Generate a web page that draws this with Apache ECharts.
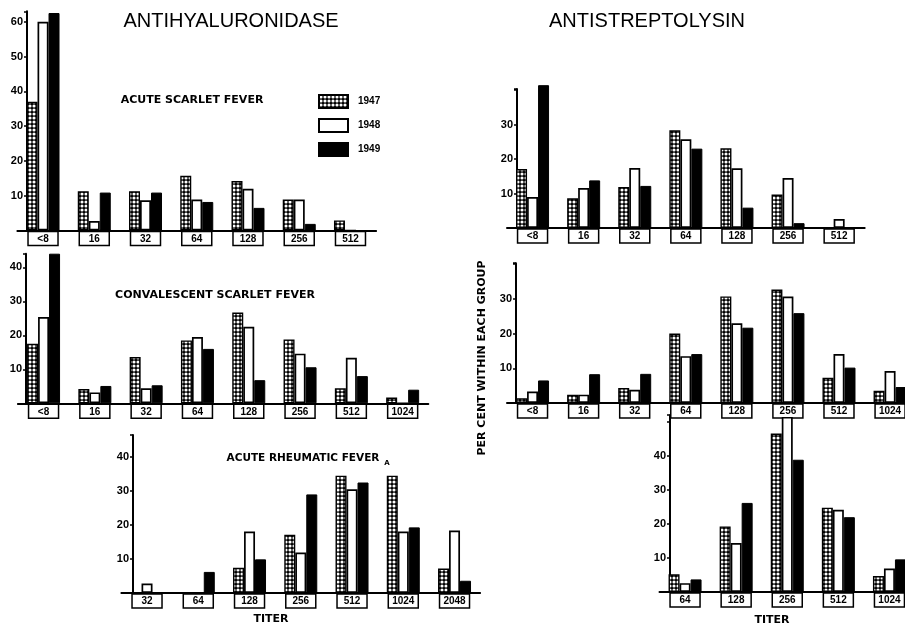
<!DOCTYPE html>
<html>
<head>
<meta charset="utf-8">
<script src="https://cdn.jsdelivr.net/npm/echarts@6/dist/echarts.min.js"></script>
<style>
html,body{margin:0;padding:0;background:#fff;}
#chart{width:905px;height:628px;}
</style>
</head>
<body>
<div id="chart"></div>
<script>
// ---------- DATA ----------
const years = ['1947', '1948', '1949'];

// Antihyaluronidase – acute scarlet fever
const ahScarletCats = ['<8', '16', '32', '64', '128', '256', '512'];
const ahScarlet1947 = [37, 11.3, 11.3, 15.7, 14.2, 8.9, 2.9];
const ahScarlet1948 = [60, 2.7, 8.7, 8.9, 12, 8.9, 0];
const ahScarlet1949 = [62.5, 10.9, 10.9, 8.2, 6.5, 1.9, 0];

// Antihyaluronidase – convalescent scarlet fever
const ahConvCats = ['<8', '16', '32', '64', '128', '256', '512', '1024'];
const ahConv1947 = [17.5, 4.2, 13.6, 18.5, 26.7, 18.8, 4.4, 1.7];
const ahConv1948 = [25.4, 3.2, 4.4, 19.5, 22.5, 14.6, 13.4, 0];
const ahConv1949 = [44, 5.1, 5.3, 16, 6.8, 10.6, 8, 4];

// Antihyaluronidase – acute rheumatic fever
const ahRheumCats = ['32', '64', '128', '256', '512', '1024', '2048'];
const ahRheum1947 = [0, 0, 7.4, 17.1, 34.5, 34.5, 7.2];
const ahRheum1948 = [2.8, 0, 18.1, 11.9, 30.5, 18.1, 18.4];
const ahRheum1949 = [0, 6.2, 9.9, 29, 32.5, 19.3, 3.6];

// Antistreptolysin – acute scarlet fever
const asScarletCats = ['<8', '16', '32', '64', '128', '256', '512'];
const asScarlet1947 = [17.1, 8.6, 11.9, 28.3, 23.1, 9.7, 0];
const asScarlet1948 = [9, 11.6, 17.4, 25.7, 17.3, 14.5, 2.6];
const asScarlet1949 = [41.4, 13.8, 12.2, 23, 5.9, 1.4, 0];

// Antistreptolysin – convalescent scarlet fever
const asConvCats = ['<8', '16', '32', '64', '128', '256', '512', '1024'];
const asConv1947 = [1.4, 2.4, 4.3, 20, 30.7, 32.7, 7.3, 3.5];
const asConv1948 = [3.3, 2.4, 3.8, 13.5, 23, 30.7, 14.1, 9.2];
const asConv1949 = [6.5, 8.3, 8.4, 14.1, 21.7, 25.9, 10.2, 4.6];

// Antistreptolysin – acute rheumatic fever
const asRheumCats = ['64', '128', '256', '512', '1024'];
const asRheum1947 = [5.2, 19.3, 46.6, 24.8, 4.7];
const asRheum1948 = [2.6, 14.4, 51.5, 24.2, 6.9];
const asRheum1949 = [3.7, 26.2, 38.9, 22, 9.6];

// tick labels shown on each y axis
const ticksP1 = [10, 20, 30, 40, 50, 60];
const ticksP2 = [10, 20, 30, 40];
const ticksP3 = [10, 20, 30, 40];
const ticksP4 = [10, 20, 30];
const ticksP5 = [10, 20, 30];
const ticksP6 = [10, 20, 30, 40];

// ---------- LAYOUT (px) ----------
const panels = [
  {cats: ahScarletCats, vals: [ahScarlet1947, ahScarlet1948, ahScarlet1949], ticks: ticksP1, left: 17.4, width: 358.7, base: 230.5, scale: 3.48, max: 63,   axisX: 27},
  {cats: ahConvCats,    vals: [ahConv1947, ahConv1948, ahConv1949],          ticks: ticksP2, left: 17.9, width: 410.4, base: 403.3, scale: 3.4,  max: 44,   axisX: 26},
  {cats: ahRheumCats,   vals: [ahRheum1947, ahRheum1948, ahRheum1949],       ticks: ticksP3, left: 121.4, width: 358.75, base: 593, scale: 3.4,  max: 46.5, axisX: 133},
  {cats: asScarletCats, vals: [asScarlet1947, asScarlet1948, asScarlet1949], ticks: ticksP4, left: 507, width: 357.7, base: 228,   scale: 3.45, max: 40.3, axisX: 517},
  {cats: asConvCats,    vals: [asConv1947, asConv1948, asConv1949],          ticks: ticksP5, left: 507, width: 408.6, base: 403,   scale: 3.47, max: 40.3, axisX: 516},
  {cats: asRheumCats,   vals: [asRheum1947, asRheum1948, asRheum1949],       ticks: ticksP6, left: 659.5, width: 255.5, base: 592, scale: 3.4,  max: 52,   axisX: 670}
];

// dotted hatch pattern for 1947
const pc = document.createElement('canvas');
pc.width = 4; pc.height = 4;
const pctx = pc.getContext('2d');
pctx.fillStyle = '#000'; pctx.fillRect(0, 0, 4, 4);
pctx.fillStyle = '#fff'; pctx.beginPath(); pctx.arc(2, 2, 1.55, 0, Math.PI * 2); pctx.fill();
const hatch = {image: pc, repeat: 'repeat'};

const yearStyles = [
  {color: hatch, borderColor: '#000', borderWidth: 1.4},
  {color: '#fff', borderColor: '#000', borderWidth: 1.7},
  {color: '#000', borderColor: '#000', borderWidth: 1}
];

const grids = [], xAxes = [], yAxes = [], series = [];
panels.forEach((p, i) => {
  const h = p.max * p.scale;
  grids.push({left: p.left, top: p.base - h, width: p.width, height: h, containLabel: false, outerBoundsMode: 'none'});
  xAxes.push({
    type: 'category', gridIndex: i, data: p.cats,
    axisLine: {show: true, lineStyle: {color: '#000', width: 2}},
    axisTick: {show: false},
    splitLine: {show: false},
    axisLabel: {
      interval: 0, rotate: 0, margin: 1, color: '#000',
      fontFamily: 'Liberation Sans', fontWeight: 'bold', fontSize: 10, lineHeight: 11,
      borderColor: '#000', borderWidth: 1.5, width: 24, padding: [2, 3, 1, 3], align: 'center', overflow: 'none'
    }
  });
  const tk = p.ticks;
  yAxes.push({
    type: 'value', gridIndex: i, min: 0, max: p.max, interval: 10,
    offset: -(p.axisX - p.left),
    axisLine: {show: true, lineStyle: {color: '#000', width: 2}},
    axisTick: {show: true, length: 3, lineStyle: {color: '#000', width: 1.5}},
    splitLine: {show: false},
    axisLabel: {
      margin: 4, color: '#000', fontFamily: 'Liberation Sans', fontWeight: 'bold', fontSize: 11,
      showMinLabel: true, showMaxLabel: true,
      formatter: v => tk.indexOf(v) >= 0 ? String(v) : ''
    }
  });
  years.forEach((y, k) => {
    series.push({
      type: 'bar', name: y, xAxisIndex: i, yAxisIndex: i,
      data: p.vals[k], barWidth: 11, barGap: '0%', clip: false,
      itemStyle: yearStyles[k], silent: true,
      emphasis: {disabled: true}
    });
  });
});

const boldSmall = 'bold 11px "DejaVu Sans"';
const txt = (text, x, y, font, rot) => ({
  type: 'text', x: x, y: y, rotation: rot || 0, z: 100,
  style: {text: text, font: font, fill: '#000', align: 'center', verticalAlign: 'middle', textAlign: 'center', textVerticalAlign: 'middle'}
});

const chart = echarts.init(document.getElementById('chart'), null, {renderer: 'canvas'});
chart.setOption({
  backgroundColor: '#fff',
  animation: false,
  legend: {
    data: years, orient: 'vertical', left: 318, top: 94, padding: 0, icon: 'rect',
    itemWidth: 29, itemHeight: 13, itemGap: 9, selectedMode: false,
    textStyle: {fontFamily: 'Liberation Sans', fontWeight: 'bold', fontSize: 10, color: '#000', padding: [0, 0, 0, 5]}
  },
  grid: grids, xAxis: xAxes, yAxis: yAxes, series: series,
  graphic: [
    txt('ANTIHYALURONIDASE', 231, 21, '20px "Liberation Sans"'),
    txt('ANTISTREPTOLYSIN', 647, 21, '20px "Liberation Sans"'),
    txt('ACUTE SCARLET FEVER', 192, 100, boldSmall),
    txt('CONVALESCENT SCARLET FEVER', 215, 295, boldSmall),
    txt('ACUTE RHEUMATIC FEVER', 303, 458, 'bold 10.5px "DejaVu Sans"'),
    txt('A', 387, 463, 'bold 7px "DejaVu Sans"'),
    txt('TITER', 271, 619, boldSmall),
    txt('TITER', 772, 620, boldSmall),
    txt('PER CENT WITHIN EACH GROUP', 482, 358, boldSmall, Math.PI / 2)
  ]
});
</script>
</body>
</html>
